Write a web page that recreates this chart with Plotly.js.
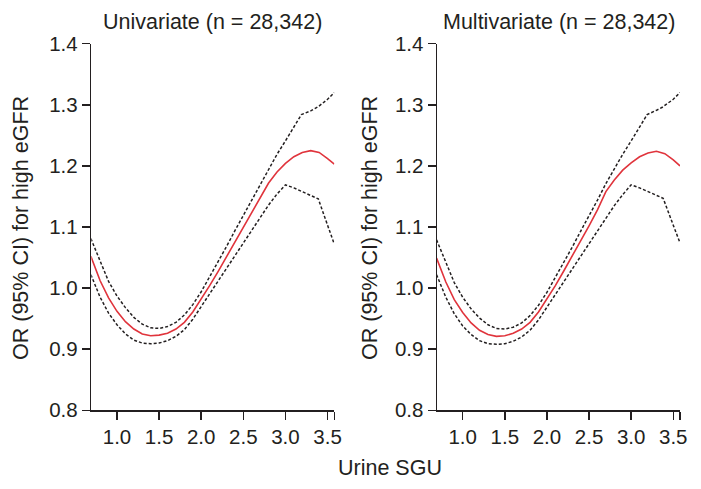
<!DOCTYPE html>
<html>
<head>
<meta charset="utf-8">
<script src="https://cdn.plot.ly/plotly-3.0.1.min.js"></script>
<style>
html, body { margin: 0; padding: 0; background: #ffffff; }
#chart { width: 701px; height: 489px; }
</style>
</head>
<body>
<div id="chart"></div>
<script>
// ---- Data ----
var panelTitles = ["Univariate (n = 28,342)", "Multivariate (n = 28,342)"];
var yTitle = "OR (95% CI) for high eGFR";
var xTitle = "Urine SGU";
var xTickVals = [1.0, 1.5, 2.0, 2.5, 3.0, 3.5, 3.58];
var xTickText = ["1.0", "1.5", "2.0", "2.5", "3.0", "3.5", ""];
var yTickVals = [0.8, 0.9, 1.0, 1.1, 1.2, 1.3, 1.4];
var yTickText = ["0.8", "0.9", "1.0", "1.1", "1.2", "1.3", "1.4"];

// Univariate
var uniX = [0.69,0.8,0.9,1.0,1.1,1.2,1.3,1.4,1.5,1.6,1.7,1.8,1.9,2.0,2.1,2.2,2.3,2.4,2.5,2.6,2.7,2.8,2.9,3.0,3.1,3.2,3.3,3.4,3.5,3.58];
var uniOR = [1.052,1.012,0.984,0.962,0.945,0.933,0.925,0.922,0.923,0.926,0.933,0.944,0.961,0.982,1.004,1.027,1.051,1.075,1.099,1.123,1.148,1.172,1.190,1.204,1.215,1.222,1.225,1.222,1.212,1.203];
var uniUpX = [0.69,0.8,0.9,1.0,1.1,1.2,1.3,1.4,1.5,1.6,1.7,1.8,1.9,2.0,2.1,2.2,2.3,2.4,2.5,2.6,2.7,2.8,2.9,3.0,3.1,3.19,3.3,3.39,3.5,3.58];
var uniUp = [1.081,1.043,1.011,0.987,0.968,0.952,0.941,0.935,0.934,0.937,0.944,0.956,0.973,0.994,1.018,1.043,1.068,1.094,1.119,1.145,1.171,1.196,1.219,1.241,1.263,1.284,1.290,1.297,1.309,1.320];
var uniLoX = [0.69,0.8,0.9,1.0,1.1,1.2,1.3,1.4,1.5,1.6,1.7,1.8,1.9,2.0,2.1,2.2,2.3,2.4,2.5,2.6,2.7,2.8,2.9,3.0,3.1,3.2,3.3,3.39,3.5,3.58];
var uniLo = [1.022,0.985,0.959,0.940,0.925,0.915,0.910,0.909,0.910,0.914,0.921,0.932,0.949,0.970,0.991,1.012,1.033,1.054,1.075,1.096,1.117,1.136,1.154,1.169,1.164,1.158,1.152,1.146,1.103,1.072];

// Multivariate
var mulX = [0.69,0.8,0.9,1.0,1.1,1.2,1.3,1.4,1.5,1.6,1.7,1.8,1.9,2.0,2.1,2.2,2.3,2.4,2.5,2.6,2.7,2.8,2.9,3.0,3.1,3.2,3.3,3.4,3.5,3.58];
var mulOR = [1.049,1.010,0.981,0.960,0.943,0.931,0.924,0.921,0.922,0.926,0.933,0.944,0.961,0.982,1.004,1.028,1.052,1.077,1.102,1.128,1.158,1.177,1.193,1.205,1.215,1.221,1.224,1.220,1.210,1.200];
var mulUpX = [0.69,0.8,0.9,1.0,1.1,1.2,1.3,1.4,1.5,1.6,1.7,1.8,1.9,2.0,2.1,2.2,2.3,2.4,2.5,2.6,2.7,2.8,2.9,3.0,3.1,3.19,3.3,3.37,3.5,3.58];
var mulUp = [1.079,1.041,1.009,0.985,0.966,0.951,0.940,0.934,0.933,0.936,0.943,0.955,0.972,0.993,1.017,1.042,1.067,1.093,1.118,1.144,1.171,1.196,1.219,1.241,1.263,1.284,1.291,1.296,1.309,1.320];
var mulLoX = [0.69,0.8,0.9,1.0,1.1,1.2,1.3,1.4,1.5,1.6,1.7,1.8,1.9,2.0,2.1,2.2,2.3,2.4,2.5,2.6,2.7,2.8,2.9,3.0,3.1,3.2,3.3,3.38,3.5,3.58];
var mulLo = [1.022,0.985,0.958,0.938,0.924,0.914,0.909,0.908,0.909,0.913,0.920,0.931,0.948,0.969,0.990,1.011,1.032,1.053,1.074,1.095,1.116,1.135,1.153,1.169,1.164,1.158,1.152,1.147,1.103,1.074];

// ---- Styles ----
var ink = "#231f20";
var red = "#e0343c";
var ciLine = { color: ink, width: 1.5, dash: "3px,2px" };
var orLine = { color: red, width: 1.6 };
var fontFam = "Liberation Sans, Arial, Helvetica, sans-serif";
var tickSize = 20.5;
var titleSize = 21.5;

var traces = [
  { x: uniUpX, y: uniUp, xaxis: "x", yaxis: "y", mode: "lines", line: ciLine, hoverinfo: "skip" },
  { x: uniLoX, y: uniLo, xaxis: "x", yaxis: "y", mode: "lines", line: ciLine, hoverinfo: "skip" },
  { x: uniX, y: uniOR, xaxis: "x", yaxis: "y", mode: "lines", line: orLine },
  { x: mulUpX, y: mulUp, xaxis: "x2", yaxis: "y2", mode: "lines", line: ciLine, hoverinfo: "skip" },
  { x: mulLoX, y: mulLo, xaxis: "x2", yaxis: "y2", mode: "lines", line: ciLine, hoverinfo: "skip" },
  { x: mulX, y: mulOR, xaxis: "x2", yaxis: "y2", mode: "lines", line: orLine }
];

function xAxis(domain, anchor) {
  return {
    domain: domain, anchor: anchor, range: [0.695, 3.58],
    showline: true, linecolor: ink, linewidth: 1.5, mirror: false,
    showgrid: false, zeroline: false,
    ticks: "outside", ticklen: 8, tickwidth: 1.5, tickcolor: ink,
    tickmode: "array", tickvals: xTickVals, ticktext: xTickText,
    tickfont: { family: fontFam, size: tickSize, color: ink }
  };
}
function yAxis(domain, anchor) {
  return {
    domain: domain, anchor: anchor, range: [0.8, 1.4],
    showline: true, linecolor: ink, linewidth: 1.5,
    showgrid: false, zeroline: false,
    ticks: "outside", ticklen: 8, tickwidth: 1.5, tickcolor: ink,
    tickmode: "array", tickvals: yTickVals, ticktext: yTickText,
    tickfont: { family: fontFam, size: tickSize, color: ink }
  };
}

var yDom = [1 - 410.3 / 489, 1 - 43.7 / 489];
var layout = {
  width: 701, height: 489,
  margin: { l: 0, r: 0, t: 0, b: 0 },
  paper_bgcolor: "#ffffff", plot_bgcolor: "#ffffff",
  showlegend: false,
  font: { family: fontFam, color: ink },
  xaxis: xAxis([91.3 / 701, 334.3 / 701], "y"),
  yaxis: yAxis(yDom, "x"),
  xaxis2: xAxis([437 / 701, 680 / 701], "y2"),
  yaxis2: yAxis(yDom, "x2"),
  annotations: [
    { text: panelTitles[0], xref: "paper", yref: "paper", x: 212.8 / 701, y: 1 - 21.7 / 489,
      xanchor: "center", yanchor: "middle", showarrow: false, font: { family: fontFam, size: titleSize, color: ink } },
    { text: panelTitles[1], xref: "paper", yref: "paper", x: 558.5 / 701, y: 1 - 21.7 / 489,
      xanchor: "center", yanchor: "middle", showarrow: false, font: { family: fontFam, size: titleSize, color: ink } },
    { text: yTitle, xref: "paper", yref: "paper", x: 21 / 701, y: 1 - 228 / 489, textangle: -90,
      xanchor: "center", yanchor: "middle", showarrow: false, font: { family: fontFam, size: titleSize, color: ink } },
    { text: yTitle, xref: "paper", yref: "paper", x: 370 / 701, y: 1 - 228 / 489, textangle: -90,
      xanchor: "center", yanchor: "middle", showarrow: false, font: { family: fontFam, size: titleSize, color: ink } },
    { text: xTitle, xref: "paper", yref: "paper", x: 390 / 701, y: 1 - 468 / 489,
      xanchor: "center", yanchor: "middle", showarrow: false, font: { family: fontFam, size: titleSize, color: ink } }
  ]
};

Plotly.newPlot("chart", traces, layout, { displayModeBar: false, staticPlot: true });
</script>
</body>
</html>
